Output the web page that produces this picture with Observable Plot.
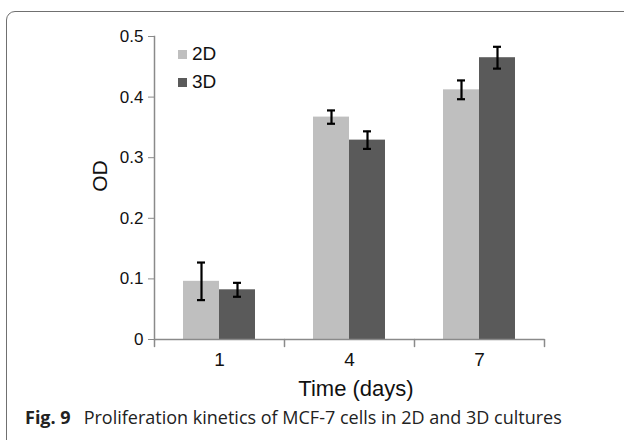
<!DOCTYPE html>
<html>
<head>
<meta charset="utf-8">
<script src="https://cdn.jsdelivr.net/npm/d3@7"></script>
<script src="https://cdn.jsdelivr.net/npm/@observablehq/plot@0.6"></script>
<style>
  html, body { margin: 0; padding: 0; background: #fff; }
  body { width: 624px; height: 440px; position: relative; overflow: hidden; font-family: "Liberation Sans", Arial, sans-serif; color: #111; }
  #frame { position: absolute; left: 6px; top: 11px; width: 720px; height: 520px; border: 1.5px solid #707070; border-radius: 9px; box-sizing: border-box; }
  #chart { position: absolute; left: 0; top: 0; }
  #ylab { position: absolute; left: 100px; top: 176px; transform: translate(-50%, -50%) rotate(-90deg); font-size: 21px; white-space: nowrap; }
  #xlab { position: absolute; left: 356px; top: 376px; transform: translateX(-50%); font-size: 22px; white-space: nowrap; }
  #legend { position: absolute; left: 178px; top: 40px; font-size: 19px; line-height: 28px; }
  #legend div { display: flex; align-items: center; }
  #legend span.sw { display: inline-block; width: 9px; height: 9px; margin-right: 5px; }
  #caption { position: absolute; left: 25px; top: 405px; font-family: "Open Sans", "Noto Sans", sans-serif; font-size: 18px; white-space: nowrap; color: #222; }
  #caption b { font-weight: 700; margin-right: 13px; }
</style>
</head>
<body>
<div id="frame"></div>
<div id="chart"></div>
<div id="ylab">OD</div>
<div id="xlab">Time (days)</div>
<div id="legend"></div>
<div id="caption"><b>Fig. 9</b>Proliferation kinetics of MCF-7 cells in 2D and 3D cultures</div>
<script>
// ---- data ----
const days = [1, 4, 7];
const series = ["2D", "3D"];
const od2D = [0.096, 0.367, 0.412];
const od3D = [0.082, 0.329, 0.465];
const err2D = [0.031, 0.011, 0.0155];
const err3D = [0.0115, 0.0145, 0.018];
const yTicks = [0, 0.1, 0.2, 0.3, 0.4, 0.5];
const colors = ["#bfbfbf", "#5a5a5a"];

// ---- table built from arrays ----
const table = [];
days.forEach((d, i) => {
  table.push({day: d, series: series[0], od: od2D[i], err: err2D[i]});
  table.push({day: d, series: series[1], od: od3D[i], err: err3D[i]});
});

const axisColor = "#8a8a8a";
const tickShape = {draw(ctx, l) { ctx.moveTo(0, 0); ctx.lineTo(0, -l); }};

const chart = Plot.plot({
  width: 624,
  height: 400,
  marginTop: 36,
  marginBottom: 61,
  marginLeft: 153,
  marginRight: 80,
  style: {fontFamily: "Liberation Sans, Arial, sans-serif", color: "#111", background: "transparent"},
  fx: {domain: days, padding: 0},
  x: {domain: series, paddingInner: 0, paddingOuter: 0.77, axis: null},
  y: {domain: [0, 0.5], axis: null},
  color: {domain: series, range: colors},
  marks: [
    Plot.barY(table, {fx: "day", x: "series", y: "od", fill: "series"}),
    Plot.ruleX(table, {fx: "day", x: "series", y1: d => d.od - d.err, y2: d => d.od + d.err, stroke: "#000", strokeWidth: 2.2}),
    Plot.tickY(table, {fx: "day", x: "series", y: d => d.od - d.err, stroke: "#000", strokeWidth: 2.2, inset: 14}),
    Plot.tickY(table, {fx: "day", x: "series", y: d => d.od + d.err, stroke: "#000", strokeWidth: 2.2, inset: 14}),
    Plot.ruleY([0], {stroke: axisColor, strokeWidth: 1.5}),
    Plot.frame({anchor: "left", fx: days[0], stroke: axisColor, strokeWidth: 1.5}),
    Plot.vector([0], {frameAnchor: "bottom-left", length: 7, rotate: 180, anchor: "start", shape: tickShape, stroke: axisColor, strokeWidth: 1.5}),
    Plot.vector([0], {fx: days[days.length - 1], frameAnchor: "bottom-right", length: 7, rotate: 180, anchor: "start", shape: tickShape, stroke: axisColor, strokeWidth: 1.5}),
    Plot.axisY({ticks: yTicks, tickFormat: d => String(d), tickSize: 6, tickPadding: 5, stroke: axisColor, fill: "#111", fontSize: 17, label: null}),
    Plot.axisFx({anchor: "bottom", tickSize: 0, tickPadding: 13, fontSize: 19, fill: "#111", label: null})
  ]
});
document.getElementById("chart").appendChild(chart);

// legend from series / colors
const lg = document.getElementById("legend");
series.forEach((s, i) => {
  const row = document.createElement("div");
  const sw = document.createElement("span");
  sw.className = "sw";
  sw.style.background = colors[i];
  row.appendChild(sw);
  row.appendChild(document.createTextNode(s));
  lg.appendChild(row);
});
</script>
</body>
</html>
